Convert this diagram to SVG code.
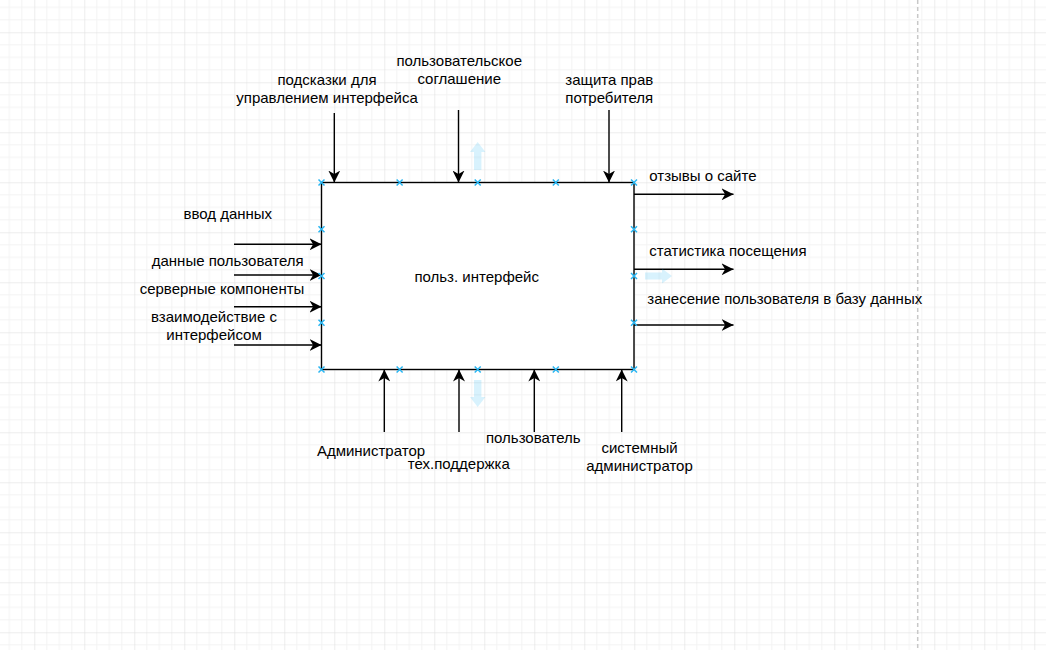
<svg xmlns="http://www.w3.org/2000/svg" width="1046" height="650" viewBox="0 0 1046 650">
<defs>
<pattern id="grid" patternUnits="userSpaceOnUse" x="34.3" y="32.3" width="50" height="50">
<path d="M12.5 0V50M25 0V50M37.5 0V50M0 12.5H50M0 25H50M0 37.5H50" stroke="#f3f3f3" stroke-width="1" fill="none"/>
<path d="M0 0V50M0 0H50" stroke="#dcdcdc" stroke-width="1" fill="none"/>
</pattern>
<marker id="arr" markerUnits="userSpaceOnUse" markerWidth="12" markerHeight="12" viewBox="0 0 10 10" refX="10" refY="5" orient="auto">
<path d="M0 0L10 5L0 10L3 5Z" fill="#000"/>
</marker>
<path id="xm" d="M-3 -3L3 3M-3 3L3 -3" stroke="#29b6f2" stroke-width="1.5" fill="none"/>
</defs>
<style>
.t{font-family:"Liberation Sans",Arial,sans-serif;font-size:15px;fill:#000}
.c{text-anchor:middle}
.ln{stroke:#000;stroke-width:1.4;fill:none;marker-end:url(#arr)}
.hv{fill:#29b6f2;opacity:0.18}
</style>
<rect width="1046" height="650" fill="#fff"/>
<rect width="1046" height="650" fill="url(#grid)"/>
<line x1="917.7" y1="0" x2="917.7" y2="650" stroke="#c8c8c8" stroke-width="1.5" stroke-dasharray="4 3"/>

<g id="connectors">
<line class="ln" x1="334.3" y1="113" x2="334.3" y2="182.5"/>
<line class="ln" x1="458.5" y1="110" x2="458.5" y2="182.5"/>
<line class="ln" x1="609" y1="110" x2="609" y2="182.5"/>
<line class="ln" x1="234" y1="244.3" x2="321.5" y2="244.3"/>
<line class="ln" x1="234" y1="275" x2="321.5" y2="275"/>
<line class="ln" x1="234" y1="306.7" x2="321.5" y2="306.7"/>
<line class="ln" x1="234" y1="345" x2="321.5" y2="345"/>
<line class="ln" x1="634" y1="194.3" x2="733.5" y2="194.3"/>
<line class="ln" x1="634" y1="269.3" x2="733.5" y2="269.3"/>
<line class="ln" x1="634" y1="325" x2="733.5" y2="325"/>
<line class="ln" x1="384.3" y1="432" x2="384.3" y2="369.5"/>
<line class="ln" x1="459" y1="432" x2="459" y2="369.5"/>
<line class="ln" x1="534.3" y1="432" x2="534.3" y2="369.5"/>
<line class="ln" x1="621.7" y1="432" x2="621.7" y2="369.5"/>
</g>

<g id="node-main">
<rect x="321.5" y="182.5" width="312.5" height="187" fill="#fff" stroke="#000" stroke-width="1.4"/>
<text class="t c" x="476.7" y="281.7">польз. интерфейс</text>
<use href="#xm" x="321.5" y="182.5"/><use href="#xm" x="399.6" y="182.5"/><use href="#xm" x="477.7" y="182.5"/><use href="#xm" x="555.8" y="182.5"/><use href="#xm" x="634" y="182.5"/>
<use href="#xm" x="321.5" y="369.5"/><use href="#xm" x="399.6" y="369.5"/><use href="#xm" x="477.7" y="369.5"/><use href="#xm" x="555.8" y="369.5"/><use href="#xm" x="634" y="369.5"/>
<use href="#xm" x="321.5" y="229.3"/><use href="#xm" x="321.5" y="276"/><use href="#xm" x="321.5" y="322.8"/>
<use href="#xm" x="634" y="229.3"/><use href="#xm" x="634" y="276"/><use href="#xm" x="634" y="322.8"/>
<path class="hv" d="M474 170V152H470L477.7 142L485.4 152H481.4V170Z"/>
<path class="hv" d="M474 380V397H470L477.7 407L485.4 397H481.4V380Z"/>
<path class="hv" d="M645 272.5H662V268.5L672 276L662 283.5V279.5H645Z"/>
</g>

<g id="label-top-1"><text class="t c" x="327" y="85">подсказки для</text><text class="t c" x="327" y="103">управлением интерфейса</text></g>
<g id="label-top-2"><text class="t c" x="459.2" y="66">пользовательское</text><text class="t c" x="459.2" y="84">соглашение</text></g>
<g id="label-top-3"><text class="t c" x="609.3" y="85">защита прав</text><text class="t c" x="609.3" y="103">потребителя</text></g>

<g id="label-left-1"><text class="t c" x="227.8" y="219">ввод данных</text></g>
<g id="label-left-2"><text class="t c" x="227.7" y="266">данные пользователя</text></g>
<g id="label-left-3"><text class="t c" x="222" y="294">серверные компоненты</text></g>
<g id="label-left-4"><text class="t c" x="214" y="322">взаимодействие с</text><text class="t c" x="214" y="339.5">интерфейсом</text></g>

<g id="label-right-1"><text class="t" x="649.3" y="180.5">отзывы о сайте</text></g>
<g id="label-right-2"><text class="t" x="649.3" y="255.5">статистика посещения</text></g>
<g id="label-right-3"><text class="t" x="647.3" y="303.5">занесение пользователя в базу данных</text></g>

<g id="label-bottom-1"><text class="t c" x="371" y="456">Администратор</text></g>
<g id="label-bottom-2"><text class="t c" x="458.8" y="469">тех.поддержка</text></g>
<g id="label-bottom-3"><text class="t c" x="533.3" y="443">пользователь</text></g>
<g id="label-bottom-4"><text class="t c" x="639.5" y="453.3">системный</text><text class="t c" x="639.5" y="470.5">администратор</text></g>
</svg>
